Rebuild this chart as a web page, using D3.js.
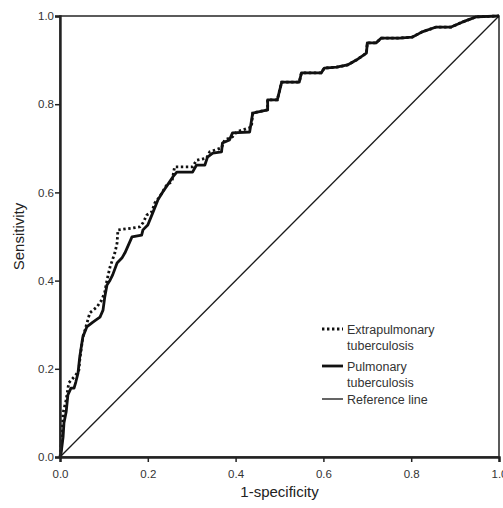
<!DOCTYPE html>
<html>
<head>
<meta charset="utf-8">
<script src="https://cdn.jsdelivr.net/npm/d3@7"></script>
<style>
  html, body { margin: 0; background: #fff; overflow: hidden; }
  svg { display: block; }
  text { font-family: 'Liberation Sans', Arial, sans-serif; }
</style>
</head>
<body>
<svg width="503" height="508"></svg>
<script>
// 1-specificity / sensitivity pairs
const pulmonaryFpr = [0, 0.002, 0.007, 0.009, 0.014, 0.018, 0.025, 0.032, 0.036, 0.041, 0.045, 0.052, 0.061, 0.075, 0.091, 0.098, 0.102, 0.107, 0.114, 0.120, 0.130, 0.141, 0.148, 0.164, 0.186, 0.189, 0.200, 0.211, 0.223, 0.234, 0.245, 0.257, 0.266, 0.302, 0.311, 0.330, 0.336, 0.348, 0.368, 0.370, 0.386, 0.393, 0.432, 0.439, 0.473, 0.473, 0.495, 0.505, 0.545, 0.550, 0.595, 0.602, 0.630, 0.655, 0.675, 0.698, 0.700, 0.720, 0.732, 0.773, 0.802, 0.825, 0.857, 0.891, 0.916, 0.948, 1]
const pulmonaryTpr = [0, 0.005, 0.045, 0.077, 0.102, 0.141, 0.156, 0.156, 0.170, 0.190, 0.227, 0.272, 0.295, 0.306, 0.317, 0.333, 0.363, 0.390, 0.401, 0.413, 0.440, 0.451, 0.463, 0.499, 0.503, 0.515, 0.526, 0.553, 0.583, 0.601, 0.617, 0.635, 0.646, 0.646, 0.662, 0.662, 0.680, 0.689, 0.692, 0.712, 0.719, 0.735, 0.737, 0.780, 0.787, 0.810, 0.810, 0.850, 0.850, 0.871, 0.871, 0.882, 0.884, 0.889, 0.900, 0.916, 0.939, 0.939, 0.950, 0.950, 0.952, 0.964, 0.975, 0.975, 0.986, 0.998, 1]

const extraFpr = [0, 0.002, 0.005, 0.007, 0.014, 0.020, 0.036, 0.043, 0.045, 0.052, 0.057, 0.068, 0.084, 0.095, 0.102, 0.107, 0.114, 0.125, 0.130, 0.132, 0.164, 0.182, 0.189, 0.198, 0.209, 0.216, 0.227, 0.243, 0.255, 0.261, 0.302, 0.311, 0.334, 0.341, 0.368, 0.375, 0.393, 0.402, 0.436, 0.439, 0.473, 0.473, 0.495, 0.505, 0.545, 0.550, 0.595, 0.602, 0.630, 0.655, 0.675, 0.698, 0.700, 0.720, 0.732, 0.773, 0.802, 0.825, 0.857, 0.891, 0.916, 0.948, 1]
const extraTpr = [0, 0.016, 0.061, 0.100, 0.129, 0.168, 0.186, 0.197, 0.220, 0.272, 0.288, 0.327, 0.340, 0.356, 0.374, 0.401, 0.431, 0.463, 0.485, 0.515, 0.519, 0.522, 0.531, 0.549, 0.556, 0.576, 0.590, 0.617, 0.624, 0.658, 0.658, 0.673, 0.678, 0.692, 0.701, 0.719, 0.726, 0.737, 0.748, 0.780, 0.787, 0.810, 0.810, 0.850, 0.850, 0.871, 0.871, 0.882, 0.884, 0.889, 0.900, 0.916, 0.939, 0.939, 0.950, 0.950, 0.952, 0.964, 0.975, 0.975, 0.986, 0.998, 1]

const refFpr = [0, 1]
const refTpr = [0, 1]

const tickValues = [0, 0.2, 0.4, 0.6, 0.8, 1.0]
const legendLabels = [['Extrapulmonary', 'tuberculosis'], ['Pulmonary', 'tuberculosis'], ['Reference line']]

const svg = d3.select('svg')
const width = +svg.attr('width')
const height = +svg.attr('height')
const margin = { top: 16, right: 4, bottom: 51, left: 60 }
const innerWidth = width - margin.left - margin.right
const innerHeight = height - margin.top - margin.bottom

const xScale = d3.scaleLinear().domain([0, 1]).range([0, innerWidth])
const yScale = d3.scaleLinear().domain([0, 1]).range([innerHeight, 0])

const g = svg.append('g')
  .attr('transform', `translate(${margin.left}, ${margin.top})`)

const zip = (xs, ys) => xs.map((x, i) => [x, ys[i]])
const line = d3.line()
  .x(d => xScale(d[0]))
  .y(d => yScale(d[1]))

// frame
g.append('rect')
  .attr('width', innerWidth)
  .attr('height', innerHeight)
  .attr('fill', 'none')
  .attr('stroke', '#333')
  .attr('stroke-width', 1.6)

// reference diagonal
g.append('path')
  .attr('d', line(zip(refFpr, refTpr)))
  .attr('fill', 'none')
  .attr('stroke', '#1a1a1a')
  .attr('stroke-width', 1.3)

g.append('path')
  .attr('d', line(zip(extraFpr, extraTpr)))
  .attr('fill', 'none')
  .attr('stroke', '#111')
  .attr('stroke-width', 2.8)
  .attr('stroke-dasharray', '2.4,2.6')

g.append('path')
  .attr('d', line(zip(pulmonaryFpr, pulmonaryTpr)))
  .attr('fill', 'none')
  .attr('stroke', '#111')
  .attr('stroke-width', 2.8)
  .attr('stroke-linejoin', 'round')

const xAxis = d3.axisBottom(xScale)
  .tickValues(tickValues)
  .tickFormat(d3.format('.1f'))
  .tickSize(5)
const yAxis = d3.axisLeft(yScale)
  .tickValues(tickValues)
  .tickFormat(d3.format('.1f'))
  .tickSize(5)

const xAxisG = g.append('g')
  .attr('transform', `translate(0, ${innerHeight})`)
  .call(xAxis)
const yAxisG = g.append('g').call(yAxis)

;[xAxisG, yAxisG].forEach(ax => {
  ax.select('.domain').attr('stroke', '#222').attr('stroke-width', 2.4)
  ax.selectAll('.tick line').attr('stroke', '#222').attr('stroke-width', 1.5)
  ax.selectAll('.tick text')
    .attr('fill', '#333')
    .style('font-size', '11.5px')
    .style('font-family', "'Liberation Sans', Arial, sans-serif")
})
xAxisG.selectAll('.tick text').attr('dy', '1.1em')
yAxisG.selectAll('.tick text').attr('x', -6)

// axis titles
svg.append('text')
  .attr('x', margin.left + innerWidth / 2)
  .attr('y', 497)
  .attr('text-anchor', 'middle')
  .attr('fill', '#222')
  .style('font-size', '15px')
  .text('1-specificity')

svg.append('text')
  .attr('transform', `translate(24, ${margin.top + innerHeight / 2}) rotate(-90)`)
  .attr('text-anchor', 'middle')
  .attr('fill', '#222')
  .style('font-size', '15px')
  .text('Sensitivity')

// legend
const legend = svg.append('g').attr('transform', 'translate(322, 330)')
const legendY = [0, 37, 70]
const legendStyles = [
  { w: 2.8, dash: '2.4,2.6' },
  { w: 2.8, dash: null },
  { w: 1.3, dash: null }
]
legendLabels.forEach((lines, i) => {
  const item = legend.append('g').attr('transform', `translate(0, ${legendY[i]})`)
  item.append('line')
    .attr('x1', 0).attr('x2', 21)
    .attr('y1', -1).attr('y2', -1)
    .attr('stroke', '#111')
    .attr('stroke-width', legendStyles[i].w)
    .attr('stroke-dasharray', legendStyles[i].dash)
  lines.forEach((t, j) => {
    item.append('text')
      .attr('x', 25)
      .attr('y', j * 15.5)
      .attr('dy', '0.35em')
      .attr('fill', '#333')
      .style('font-size', '12.5px')
      .text(t)
  })
})
</script>
</body>
</html>
